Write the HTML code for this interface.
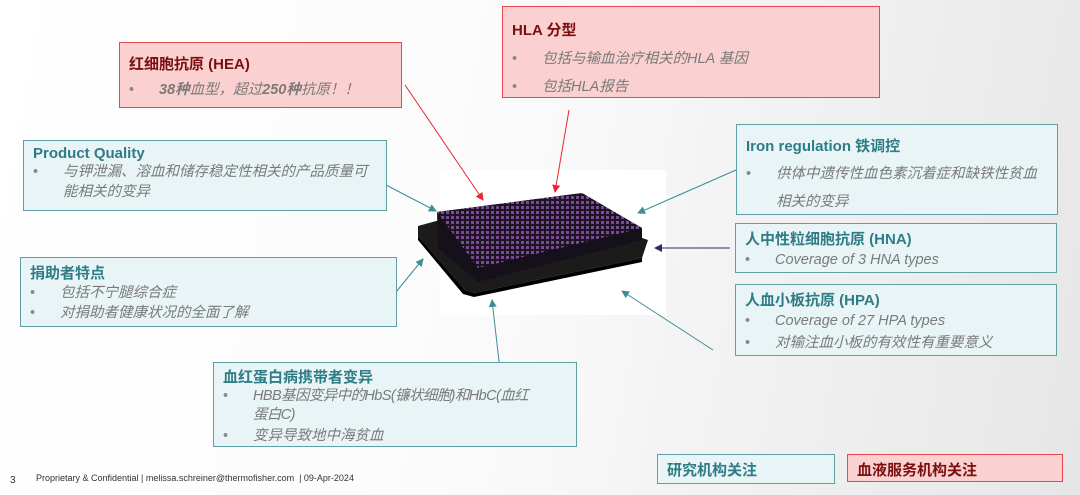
<!DOCTYPE html>
<html><head><meta charset="utf-8"><style>
*{margin:0;padding:0;box-sizing:border-box}
body{width:1080px;height:495px;overflow:hidden;position:relative;font-family:"Liberation Sans","Noto Sans CJK SC",sans-serif;background:linear-gradient(100deg,#ffffff 0%,#fbfbfb 45%,#e6e6e6 100%)}
.b{position:absolute;border:1.5px solid #5e9fa8;background:#e9f4f6;padding:4px 9px}
.r{border-color:#e8474d;background:#fbd0d1}
.t{font-weight:bold;font-size:15px;color:#2e7c86}
.r .t{color:#7a1010}
ul{list-style:none}
li{position:relative;padding-left:30px;font-style:italic;color:#7a7a7a;font-size:14.5px;line-height:22px;white-space:nowrap}
li:before{content:"•";position:absolute;left:0;color:#888;font-style:normal}
.ft{position:absolute;left:36px;top:473px;font-size:9px;color:#333}
</style></head><body>
<svg width="1080" height="495" style="position:absolute;left:0;top:0">
<defs>
<pattern id="d" width="5" height="5" patternUnits="userSpaceOnUse"><rect width="5" height="5" fill="#1c1422"/><rect x="1" y="1" width="3" height="3" fill="#7a4a94"/></pattern>
<marker id="ar" markerWidth="8" markerHeight="8" refX="7" refY="4" orient="auto"><path d="M0,0 L8,4 L0,8z" fill="#e8282e"/></marker>
<marker id="at" markerWidth="8" markerHeight="8" refX="7" refY="4" orient="auto"><path d="M0,0 L8,4 L0,8z" fill="#3c8e98"/></marker>
<marker id="ap" markerWidth="8" markerHeight="8" refX="7" refY="4" orient="auto"><path d="M0,0 L8,4 L0,8z" fill="#33276b"/></marker>
</defs>
<rect x="440" y="170" width="226" height="145" fill="#fff"/>
<polygon points="418,226 440,220 625,232 648,240 642,258 474,293 465,290 418,236" fill="#1b1b1b"/>
<polygon points="418,236 465,290 474,293 642,258 642,262 474,297 463,294 418,240" fill="#000"/>
<polygon points="437,212 582,193 642,228 642,240 478,282 438,248" fill="#15101a"/>
<polygon points="437,212 582,193 642,228 478,268" fill="url(#d)"/>
<g stroke-width="1">
<line x1="405" y1="85" x2="483" y2="200" stroke="#e8282e" marker-end="url(#ar)"/>
<line x1="569" y1="110" x2="555" y2="192" stroke="#e8282e" marker-end="url(#ar)"/>
<line x1="386" y1="185" x2="436" y2="211" stroke="#3c8e98" marker-end="url(#at)"/>
<line x1="736" y1="170" x2="638" y2="213" stroke="#3c8e98" marker-end="url(#at)"/>
<line x1="730" y1="248" x2="655" y2="248" stroke="#33276b" marker-end="url(#ap)"/>
<line x1="713" y1="350" x2="622" y2="291" stroke="#3c8e98" marker-end="url(#at)"/>
<line x1="396" y1="292" x2="423" y2="259" stroke="#3c8e98" marker-end="url(#at)"/>
<line x1="500" y1="370" x2="492" y2="300" stroke="#3c8e98" marker-end="url(#at)"/>
</g>
</svg>
<div class="b r" style="left:119px;top:42px;width:283px;height:66px;padding-top:10px"><div class="t">红细胞抗原 (HEA)</div><ul style="margin-top:5px"><li><b>38种</b>血型，超过<b>250种</b>抗原！！</li></ul></div>
<div class="b r" style="left:502px;top:6px;width:378px;height:92px;padding-top:12px"><div class="t">HLA 分型</div><ul style="margin-top:5px"><li style="line-height:28px">包括与输血治疗相关的HLA 基因</li><li style="line-height:28px">包括HLA报告</li></ul></div>
<div class="b" style="left:23px;top:140px;width:364px;height:71px"><div class="t">Product Quality</div><ul><li style="line-height:20px">与钾泄漏、溶血和储存稳定性相关的产品质量可<br>能相关的变异</li></ul></div>
<div class="b" style="left:736px;top:124px;width:322px;height:91px;padding-top:10px"><div class="t">Iron regulation 铁调控</div><ul style="margin-top:4px"><li style="line-height:28px">供体中遗传性血色素沉着症和缺铁性贫血<br>相关的变异</li></ul></div>
<div class="b" style="left:735px;top:223px;width:322px;height:50px;padding-top:4px"><div class="t">人中性粒细胞抗原 (HNA)</div><ul><li>Coverage of 3 HNA types</li></ul></div>
<div class="b" style="left:735px;top:284px;width:322px;height:72px;padding-top:4px"><div class="t">人血小板抗原 (HPA)</div><ul><li>Coverage of 27 HPA types</li><li>对输注血小板的有效性有重要意义</li></ul></div>
<div class="b" style="left:20px;top:257px;width:377px;height:70px"><div class="t">捐助者特点</div><ul><li style="line-height:20px">包括不宁腿综合症</li><li style="line-height:20px">对捐助者健康状况的全面了解</li></ul></div>
<div class="b" style="left:213px;top:362px;width:364px;height:85px;padding-top:3px"><div class="t">血红蛋白病携带者变异</div><ul><li style="line-height:19px;letter-spacing:-0.6px">HBB基因变异中的HbS(镰状细胞)和HbC(血红<br>蛋白C)</li><li style="line-height:22px">变异导致地中海贫血</li></ul></div>
<div class="b" style="left:657px;top:454px;width:178px;height:30px;padding-top:4px"><div class="t">研究机构关注</div></div>
<div class="b r" style="left:847px;top:454px;width:216px;height:28px;padding-top:4px"><div class="t">血液服务机构关注</div></div>
<div style="position:absolute;left:10px;top:475px;font-size:10px;color:#333">3</div>
<div class="ft">Proprietary &amp; Confidential | melissa.schreiner@thermofisher.com &nbsp;| 09-Apr-2024</div>
</body></html>
